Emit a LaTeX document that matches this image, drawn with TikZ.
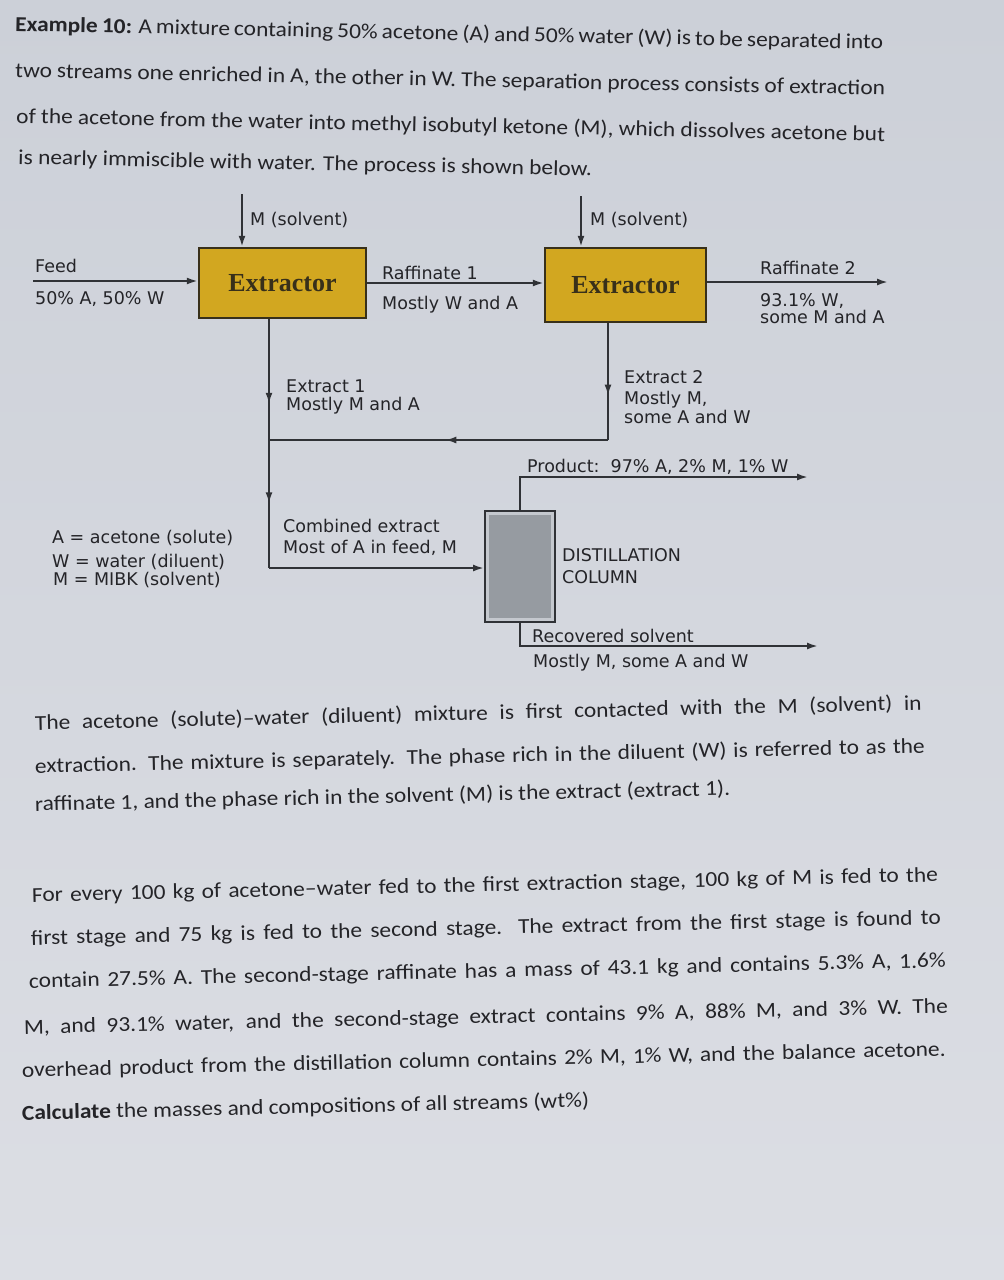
\documentclass[tikz,border=0pt]{standalone}
\usepackage{fontspec}
\setmainfont{Carlito}[FakeStretch=1.1]
\newfontfamily\diafont{DejaVu Sans}
\newfontfamily\boxfont{Liberation Serif}
\usetikzlibrary{arrows.meta,decorations.markings}
\definecolor{paper}{RGB}{204,208,216}
\definecolor{paperlow}{RGB}{220,222,228}
\definecolor{ink}{RGB}{36,36,40}
\definecolor{pipe}{RGB}{48,50,54}
\definecolor{gold}{RGB}{210,167,32}
\definecolor{goldedge}{RGB}{56,48,26}
\definecolor{colgray}{RGB}{150,155,161}
\definecolor{colband}{RGB}{196,200,206}

\begin{document}
\begin{tikzpicture}[
  x=1pt, y=-1pt,
  >={Latex[length=11pt,width=7pt]},
  flow/.style={draw=pipe, line width=2pt},
  unit/.style={draw=goldedge, line width=2.4pt, fill=gold, inner sep=0pt,
    font=\boxfont\bfseries\fontsize{26}{30}\selectfont, text=goldedge},
  column/.style={draw=pipe, line width=2pt, fill=colband, inner sep=0pt,
    path picture={\fill[colgray] ([shift={(4,4)}]path picture bounding box.north west)
      rectangle ([shift={(-4,-4)}]path picture bounding box.south east);}},
  lbl/.style={anchor=base west, inner sep=0pt,
    font=\diafont\fontsize{17.5}{20}\selectfont, text=ink},
  para/.style={anchor=base west, inner sep=0pt,
    font=\fontsize{21.3}{26}\selectfont, text=ink},
  tipat/.style={postaction={decorate, decoration={markings,
    mark=at position #1 with {\arrow{>}}}}}
]
\useasboundingbox (0,0) rectangle (1004,1280);
\shade[top color=paper, bottom color=paperlow] (0,0) rectangle (1004,1280);

% problem statement
\node[para, rotate=-1.2] (intro1) at (15,31)
  {\makebox[868pt][s]{\textbf{Example 10:} A mixture containing 50\% acetone (A) and 50\% water (W) is to be separated into}};
\node[para, rotate=-1.2] (intro2) at (15,77)
  {\makebox[870pt][s]{two streams one enriched in A, the other in W. The separation process consists of extraction}};
\node[para, rotate=-1.2] (intro3) at (16,123)
  {\makebox[869pt][s]{of the acetone from the water into methyl isobutyl ketone (M), which dissolves acetone but}};
\node[para, rotate=-1.2] (intro4) at (18,164)
  {is nearly immiscible with water. The process is shown below.};

% extractors
\node[unit, minimum width=167pt, minimum height=70pt] (ext1) at (282.5,283) {Extractor};
\node[unit, minimum width=161pt, minimum height=74pt] (ext2) at (625.5,285) {Extractor};

% distillation column
\node[column, minimum width=70pt, minimum height=111pt] (col) at (520,566.5) {};

% stream ends and bends
\coordinate (feedin) at (33,281);
\coordinate (m1in) at (242,194);
\coordinate (m2in) at (581,196);
\coordinate (raf2out) at (888,282);
\coordinate (e2turn) at (608,440);
\coordinate (e1join) at (269,440);
\coordinate (e1turn) at (269,568);
\coordinate (prodout) at (808,477);
\coordinate (recout) at (818,646);

% streams
\draw[flow,->] (feedin) -- (feedin -| ext1.west);
\draw[flow,->] (m1in) -- (m1in |- ext1.north);
\draw[flow,->] (m2in) -- (m2in |- ext2.north);
\draw[flow,->] (ext1.east) -- (ext1.east -| ext2.west);
\draw[flow,->] (ext2.east |- raf2out) -- (raf2out);
\draw[flow, tipat=0.62] (ext2.south -| e2turn) -- (e2turn);
\draw[flow, tipat=0.48] (e2turn) -- (e1join);
\draw[flow, tipat=0.34, tipat=0.74] (ext1.south -| e1turn) -- (e1turn);
\draw[flow,->] (e1turn) -- (e1turn -| col.west);
\draw[flow,->] (col.north) |- (prodout);
\draw[flow,->] (col.south) |- (recout);

% stream labels
\node[lbl] (feedname) at (35,272) {Feed};
\node[lbl] (feedcomp) at (35,304) {50\% A, 50\% W};
\node[lbl] (m1name) at (250,225) {M (solvent)};
\node[lbl] (m2name) at (590,225) {M (solvent)};
\node[lbl] (raf1name) at (382,279) {Raffinate 1};
\node[lbl] (raf1comp) at (382,309) {Mostly W and A};
\node[lbl] (raf2name) at (760,274) {Raffinate 2};
\node[lbl] (raf2compa) at (760,306) {93.1\% W,};
\node[lbl] (raf2compb) at (760,323) {some M and A};
\node[lbl] (ex1name) at (286,392) {Extract 1};
\node[lbl] (ex1comp) at (286,410) {Mostly M and A};
\node[lbl] (ex2name) at (624,383) {Extract 2};
\node[lbl] (ex2compa) at (624,404) {Mostly M,};
\node[lbl] (ex2compb) at (624,423) {some A and W};
\node[lbl] (prodname) at (527,472) {Product:\ \ 97\% A, 2\% M, 1\% W};
\node[lbl] (combname) at (283,532) {Combined extract};
\node[lbl] (combcomp) at (283,553) {Most of A in feed, M};
\node[lbl] (colname) at (562,561) {DISTILLATION};
\node[lbl] (colname2) at (562,583) {COLUMN};
\node[lbl] (recname) at (532,642) {Recovered solvent};
\node[lbl] (reccomp) at (533,667) {Mostly M, some A and W};

% key
\node[lbl] (keya) at (52,543) {A = acetone (solute)};
\node[lbl] (keyw) at (52,567) {W = water (diluent)};
\node[lbl] (keym) at (53,585) {M = MIBK (solvent)};

% explanation
\node[para, rotate=1.3] (expl1) at (35,730)
  {\makebox[887pt][s]{The acetone (solute)--water (diluent) mixture is first contacted with the M (solvent) in}};
\node[para, rotate=1.3] (expl2) at (35,773)
  {\makebox[890pt][s]{extraction. The mixture is separately. The phase rich in the diluent (W) is referred to as the}};
\node[para, rotate=1.3] (expl3) at (35,811)
  {raffinate 1, and the phase rich in the solvent (M) is the extract (extract 1).};

\node[para, rotate=1.3] (task1) at (32,902)
  {\makebox[906pt][s]{For every 100 kg of acetone--water fed to the first extraction stage, 100 kg of M is fed to the}};
\node[para, rotate=1.3] (task2) at (31,945)
  {\makebox[910pt][s]{first stage and 75 kg is fed to the second stage. The extract from the first stage is found to}};
\node[para, rotate=1.3] (task3) at (29,988)
  {\makebox[917pt][s]{contain 27.5\% A. The second-stage raffinate has a mass of 43.1 kg and contains 5.3\% A, 1.6\%}};
\node[para, rotate=1.3] (task4) at (24,1034)
  {\makebox[924pt][s]{M, and 93.1\% water, and the second-stage extract contains 9\% A, 88\% M, and 3\% W. The}};
\node[para, rotate=1.3] (task5) at (22,1077)
  {\makebox[924pt][s]{overhead product from the distillation column contains 2\% M, 1\% W, and the balance acetone.}};
\node[para, rotate=1.3] (task6) at (22,1120)
  {\textbf{Calculate} the masses and compositions of all streams (wt\%)};
\end{tikzpicture}
\end{document}
